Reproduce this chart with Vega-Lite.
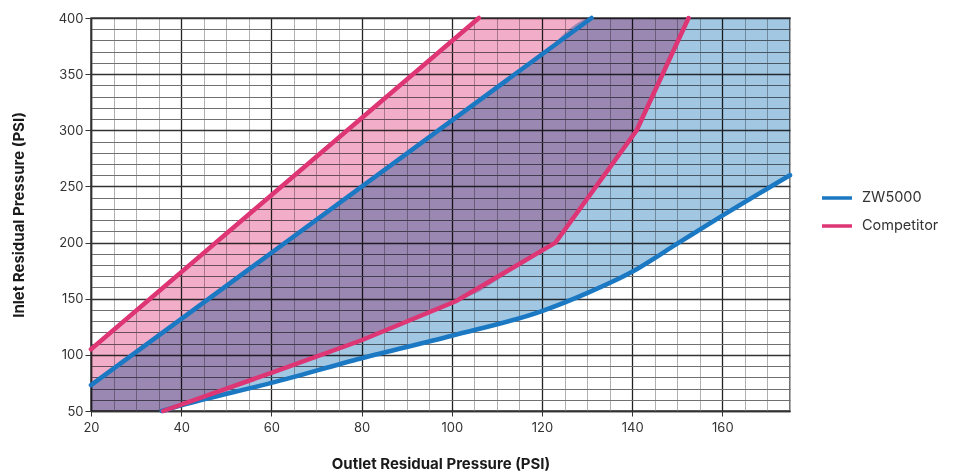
{
  "$schema": "https://vega.github.io/schema/vega-lite/v6.json",
  "autosize": "none",
  "width": 699,
  "height": 393,
  "padding": {"left": 91, "top": 18, "right": 170, "bottom": 61},
  "background": "white",
  "config": {
    "view": {"stroke": "#444", "strokeWidth": 1.5},
    "font": "Inter"
  },
  "datasets": {
    "areas": [
      {"series": "ZW5000", "x": 20, "lo": 50, "hi": 73},
      {"series": "ZW5000", "x": 35.7, "lo": 50, "hi": 119},
      {"series": "ZW5000", "x": 40, "lo": 55, "hi": 132},
      {"series": "ZW5000", "x": 60, "lo": 75, "hi": 191},
      {"series": "ZW5000", "x": 80, "lo": 97, "hi": 250},
      {"series": "ZW5000", "x": 100, "lo": 117, "hi": 309},
      {"series": "ZW5000", "x": 120, "lo": 139, "hi": 368},
      {"series": "ZW5000", "x": 131, "lo": 157, "hi": 400},
      {"series": "ZW5000", "x": 140, "lo": 174, "hi": 400},
      {"series": "ZW5000", "x": 150, "lo": 199, "hi": 400},
      {"series": "ZW5000", "x": 160, "lo": 224, "hi": 400},
      {"series": "ZW5000", "x": 175, "lo": 260, "hi": 400},
      {"series": "Competitor", "x": 20, "lo": 50, "hi": 105},
      {"series": "Competitor", "x": 36, "lo": 50, "hi": 160},
      {"series": "Competitor", "x": 60, "lo": 84, "hi": 242},
      {"series": "Competitor", "x": 80, "lo": 113, "hi": 311},
      {"series": "Competitor", "x": 101, "lo": 148, "hi": 383},
      {"series": "Competitor", "x": 106, "lo": 156, "hi": 400},
      {"series": "Competitor", "x": 123, "lo": 200, "hi": 400},
      {"series": "Competitor", "x": 141, "lo": 300, "hi": 400},
      {"series": "Competitor", "x": 152.5, "lo": 400, "hi": 400}
    ],
    "lines": [
      {"series": "ZW5000", "part": "upper", "x": 20, "y": 73},
      {"series": "ZW5000", "part": "upper", "x": 131, "y": 400},
      {"series": "ZW5000", "part": "lower", "x": 35.7, "y": 50},
      {"series": "ZW5000", "part": "lower", "x": 40, "y": 55},
      {"series": "ZW5000", "part": "lower", "x": 60, "y": 75},
      {"series": "ZW5000", "part": "lower", "x": 80, "y": 97},
      {"series": "ZW5000", "part": "lower", "x": 100, "y": 117},
      {"series": "ZW5000", "part": "lower", "x": 120, "y": 139},
      {"series": "ZW5000", "part": "lower", "x": 130, "y": 155},
      {"series": "ZW5000", "part": "lower", "x": 140, "y": 174},
      {"series": "ZW5000", "part": "lower", "x": 150, "y": 199},
      {"series": "ZW5000", "part": "lower", "x": 160, "y": 224},
      {"series": "ZW5000", "part": "lower", "x": 175, "y": 260},
      {"series": "Competitor", "part": "upper", "x": 20, "y": 105},
      {"series": "Competitor", "part": "upper", "x": 106, "y": 400},
      {"series": "Competitor", "part": "lower", "x": 36, "y": 50},
      {"series": "Competitor", "part": "lower", "x": 60, "y": 84},
      {"series": "Competitor", "part": "lower", "x": 80, "y": 113},
      {"series": "Competitor", "part": "lower", "x": 101, "y": 148},
      {"series": "Competitor", "part": "lower", "x": 123, "y": 200},
      {"series": "Competitor", "part": "lower", "x": 141, "y": 300},
      {"series": "Competitor", "part": "lower", "x": 152.5, "y": 400}
    ]
  },
  "encoding": {
    "x": {
      "field": "x", "type": "quantitative",
      "scale": {"domain": [20, 175], "nice": false, "zero": false},
      "axis": {
        "title": "Outlet Residual Pressure (PSI)",
        "titleFontSize": 15, "titleFontWeight": "bold", "titleColor": "#1a1a1a", "titlePadding": 22,
        "values": [20,25,30,35,40,45,50,55,60,65,70,75,80,85,90,95,100,105,110,115,120,125,130,135,140,145,150,155,160,165,170,175],
        "labelExpr": "datum.value % 20 === 0 ? datum.label : ''",
        "labelFlush": false,
        "labelFontSize": 13, "labelColor": "#333", "labelPadding": 5,
        "domainColor": "#333", "domainWidth": 1.5,
        "tickSize": 5, "tickColor": "#333",
        "tickOpacity": {"condition": {"test": "datum.value % 20 === 0", "value": 1}, "value": 0},
        "grid": true,
        "gridColor": {"condition": {"test": "datum.value % 20 === 0", "value": "#222"}, "value": "#b0b0b0"},
        "gridWidth": {"condition": {"test": "datum.value % 20 === 0", "value": 1.3}, "value": 1},
        "gridOpacity": 1
      }
    },
    "y": {
      "type": "quantitative",
      "scale": {"domain": [50, 400], "nice": false, "zero": false},
      "axis": {
        "title": "Inlet Residual Pressure (PSI)",
        "titleFontSize": 15, "titleFontWeight": "bold", "titleColor": "#1a1a1a", "titlePadding": 32,
        "values": [50,60,70,80,90,100,110,120,130,140,150,160,170,180,190,200,210,220,230,240,250,260,270,280,290,300,310,320,330,340,350,360,370,380,390,400],
        "labelExpr": "datum.value % 50 === 0 ? datum.label : ''",
        "labelFlush": false,
        "labelFontSize": 13, "labelColor": "#333", "labelPadding": 2,
        "domainColor": "#333", "domainWidth": 1.5,
        "tickSize": 6, "tickColor": "#333",
        "tickOpacity": {"condition": {"test": "datum.value % 50 === 0", "value": 1}, "value": 0},
        "grid": true,
        "gridColor": {"condition": {"test": "datum.value % 50 === 0", "value": "#333"}, "value": "#707070"},
        "gridWidth": {"condition": {"test": "datum.value % 50 === 0", "value": 1.3}, "value": 1},
        "gridOpacity": 1
      }
    }
  },
  "layer": [
    {
      "data": {"name": "areas"},
      "transform": [{"filter": "datum.series === 'ZW5000'"}],
      "mark": {"type": "area", "color": "#a2c7e3", "opacity": 1, "blend": "multiply", "interpolate": "monotone"},
      "encoding": {"y": {"field": "lo"}, "y2": {"field": "hi"}}
    },
    {
      "data": {"name": "areas"},
      "transform": [{"filter": "datum.series === 'Competitor'"}],
      "mark": {"type": "area", "color": "#f2aec8", "opacity": 1, "blend": "multiply"},
      "encoding": {"y": {"field": "lo"}, "y2": {"field": "hi"}}
    },
    {
      "data": {"name": "lines"},
      "transform": [{"filter": "datum.series === 'ZW5000' && datum.part === 'lower'"}],
      "mark": {"type": "line", "strokeWidth": 4.5, "interpolate": "monotone", "strokeCap": "round"},
      "encoding": {
        "y": {"field": "y"},
        "color": {"field": "series", "type": "nominal", "scale": {"domain": ["ZW5000", "Competitor"], "range": ["#1b78c2", "#de3574"]}}
      }
    },
    {
      "data": {"name": "lines"},
      "transform": [{"filter": "datum.part === 'upper' || datum.series === 'Competitor'"}],
      "mark": {"type": "line", "strokeWidth": 4.5, "strokeCap": "round"},
      "encoding": {
        "y": {"field": "y"},
        "detail": {"field": "part"},
        "order": {"field": "x"},
        "color": {
          "field": "series", "type": "nominal",
          "scale": {"domain": ["ZW5000", "Competitor"], "range": ["#1b78c2", "#de3574"]},
          "legend": {
            "title": null, "orient": "none", "legendX": 729, "legendY": 163,
            "symbolType": "stroke", "symbolSize": 900, "symbolStrokeWidth": 3.5,
            "labelFontSize": 14.5, "labelColor": "#333", "labelOffset": 8,
            "rowPadding": 4
          }
        }
      }
    }
  ]
}
